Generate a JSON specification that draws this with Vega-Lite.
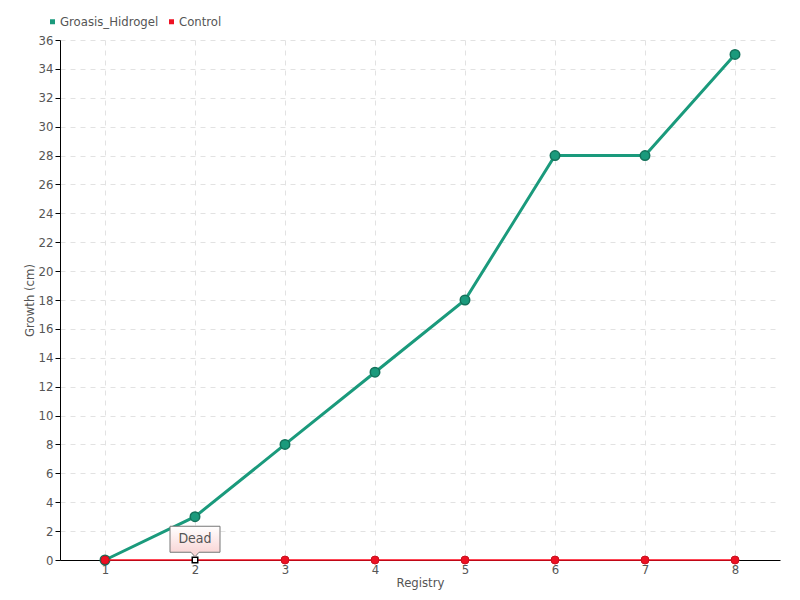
{
  "$schema": "https://vega.github.io/schema/vega-lite/v6.json",
  "autosize": {"type": "none"},
  "width": 720,
  "height": 520,
  "padding": {"left": 60, "top": 40, "right": 20, "bottom": 40},
  "background": "white",
  "config": {
    "view": {"stroke": null},
    "font": "DejaVu Sans Condensed",
    "axis": {
      "labelFont": "DejaVu Sans Condensed",
      "titleFont": "DejaVu Sans Condensed",
      "labelColor": "#555555",
      "titleColor": "#555555",
      "labelFontSize": 13,
      "titleFontSize": 13,
      "titleFontWeight": "normal",
      "domainColor": "#000000",
      "domainWidth": 1,
      "gridColor": "#e2e2e2",
      "gridDash": [5, 5],
      "gridWidth": 1
    },
    "legend": {
      "labelFont": "DejaVu Sans Condensed",
      "labelFontSize": 13,
      "labelColor": "#555555"
    }
  },
  "data": {
    "values": [
      {"registry": 1, "series": "Groasis_Hidrogel", "growth": 0},
      {"registry": 2, "series": "Groasis_Hidrogel", "growth": 3},
      {"registry": 3, "series": "Groasis_Hidrogel", "growth": 8},
      {"registry": 4, "series": "Groasis_Hidrogel", "growth": 13},
      {"registry": 5, "series": "Groasis_Hidrogel", "growth": 18},
      {"registry": 6, "series": "Groasis_Hidrogel", "growth": 28},
      {"registry": 7, "series": "Groasis_Hidrogel", "growth": 28},
      {"registry": 8, "series": "Groasis_Hidrogel", "growth": 35},
      {"registry": 1, "series": "Control", "growth": 0},
      {"registry": 2, "series": "Control", "growth": 0, "note": "Dead"},
      {"registry": 3, "series": "Control", "growth": 0},
      {"registry": 4, "series": "Control", "growth": 0},
      {"registry": 5, "series": "Control", "growth": 0},
      {"registry": 6, "series": "Control", "growth": 0},
      {"registry": 7, "series": "Control", "growth": 0},
      {"registry": 8, "series": "Control", "growth": 0}
    ]
  },
  "encoding": {
    "x": {
      "field": "registry",
      "type": "quantitative",
      "scale": {"domain": [0.5, 8.5], "nice": false, "zero": false},
      "axis": {
        "title": "Registry",
        "values": [1, 2, 3, 4, 5, 6, 7, 8],
        "ticks": false,
        "tickSize": 0,
        "labelPadding": 3,
        "titlePadding": 0,
        "grid": true
      }
    },
    "y": {
      "field": "growth",
      "type": "quantitative",
      "scale": {"domain": [0, 36], "nice": false},
      "axis": {
        "title": "Growth (cm)",
        "values": [0, 2, 4, 6, 8, 10, 12, 14, 16, 18, 20, 22, 24, 26, 28, 30, 32, 34, 36],
        "tickSize": 5,
        "tickColor": "#000000",
        "labelPadding": 2,
        "titleX": -24,
        "titleY": 260,
        "grid": true
      }
    }
  },
  "layer": [
    {
      "transform": [{"filter": "datum.series === 'Groasis_Hidrogel'"}],
      "mark": {"type": "line", "color": "#1a9a7c", "strokeWidth": 3}
    },
    {
      "transform": [{"filter": "datum.series === 'Groasis_Hidrogel'"}],
      "mark": {"type": "point", "filled": true, "size": 90, "opacity": 1, "stroke": "#13715a", "strokeWidth": 1.5},
      "encoding": {
        "color": {
          "field": "series",
          "type": "nominal",
          "scale": {"domain": ["Groasis_Hidrogel", "Control"], "range": ["#1a9a7c", "#ee1123"]},
          "legend": {
            "title": null,
            "orient": "none",
            "direction": "horizontal",
            "legendX": -14,
            "legendY": -25,
            "symbolType": "square",
            "symbolSize": 25,
            "symbolStrokeWidth": 0,
            "labelOffset": 1,
            "columnPadding": 6
          }
        }
      }
    },
    {
      "transform": [{"filter": "datum.series === 'Control'"}],
      "mark": {"type": "line", "color": "#ff0a1e", "strokeWidth": 1.5}
    },
    {
      "transform": [{"filter": "datum.series === 'Control' && datum.registry !== 2"}],
      "mark": {"type": "point", "filled": true, "size": 64, "opacity": 1, "stroke": "#c8101f", "strokeWidth": 1},
      "encoding": {
        "color": {"field": "series", "type": "nominal"}
      }
    },
    {
      "transform": [{"filter": "datum.note === 'Dead'"}],
      "mark": {"type": "point", "shape": "square", "filled": true, "size": 30, "opacity": 1, "fill": "#ffffff", "stroke": "#000000", "strokeWidth": 1.5}
    },
    {
      "transform": [{"filter": "datum.note === 'Dead'"}],
      "mark": {
        "type": "point",
        "shape": "M-1,-1.35H1V-0.31H0.16L0,-0.13L-0.16,-0.31H-1Z",
        "size": 2500,
        "filled": true,
        "opacity": 1,
        "fill": {
          "gradient": "linear",
          "x1": 0, "y1": 0, "x2": 0, "y2": 1,
          "stops": [{"offset": 0, "color": "#ffffff"}, {"offset": 1, "color": "#f8d0d0"}]
        },
        "stroke": "#777777",
        "strokeWidth": 1
      }
    },
    {
      "transform": [{"filter": "datum.note === 'Dead'"}],
      "mark": {"type": "text", "dy": -21, "fontSize": 14, "color": "#555555", "align": "center", "baseline": "middle"},
      "encoding": {"text": {"field": "note"}}
    }
  ]
}
